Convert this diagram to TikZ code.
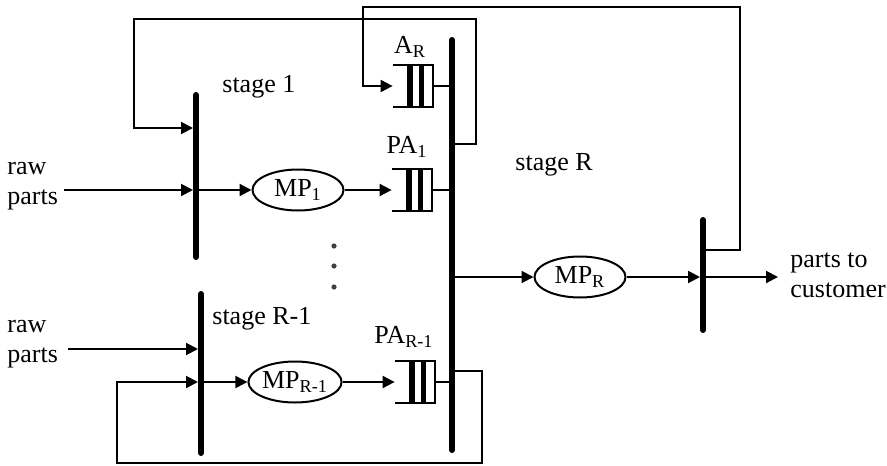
\documentclass[tikz,border=0pt]{standalone}
\usepackage{fontspec}
\setmainfont{Liberation Serif}
\usetikzlibrary{shapes.geometric,arrows.meta}

\newcommand\lbl{\fontsize{13}{15}\selectfont}
% buffer: open on the left, two thick bars inside
\newcommand\drawbuffer[1]{%
  \draw[flow] (#1.north west) -- (#1.north east) -- (#1.south east) -- (#1.south west);
  \draw[line width=3pt] ([xshift=8.5pt]#1.north west) -- ([xshift=8.5pt]#1.south west);
  \draw[line width=2.5pt] ([xshift=14.5pt]#1.north west) -- ([xshift=14.5pt]#1.south west);
}

\tikzset{
  flow/.style={line width=1pt},
  arr/.style={flow,-{Triangle[length=6pt,width=6pt]}},
  stagebar/.style={line width=3pt,line cap=round},
  machine/.style={ellipse,draw,line width=1pt,minimum width=45.5pt,minimum height=20.5pt,inner sep=0pt,font=\lbl},
  buffer/.style={minimum width=20pt,minimum height=21pt,inner sep=0pt},
  txt/.style={font=\lbl,inner sep=0pt,align=left},
}

\begin{document}
\begin{tikzpicture}[x=0.5pt,y=-0.5pt]
    \useasboundingbox (0,0) rectangle (887,465);

    % stage bars
    \coordinate (s1t) at (196,95);  \coordinate (s1b) at (196,257);
    \coordinate (s2t) at (201,294); \coordinate (s2b) at (201,453);
    \coordinate (sRt) at (452,40);  \coordinate (sRb) at (452,450);
    \coordinate (ot) at (703,220);  \coordinate (ob) at (703,330);
    \draw[stagebar] (s1t) -- (s1b);
    \draw[stagebar] (s2t) -- (s2b);
    \draw[stagebar] (sRt) -- (sRb);
    \draw[stagebar] (ot) -- (ob);

    % labels
    \node[txt, anchor=west] (raw1) at (7,186) {raw\\parts};
    \node[txt, anchor=west] (raw2) at (7,344) {raw\\parts};
    \node[txt, anchor=west] (cust) at (790,275) {parts to\\customer};
    \node[txt, anchor=west] (st1) at (222,87) {stage 1};
    \node[txt, anchor=west] (stR) at (515,165) {stage R};
    \node[txt, anchor=west] (stR1) at (212,319) {stage R-1};
    \node[txt] (arlbl) at (410,47) {A\textsubscript{R}};
    \node[txt] (pa1lbl) at (407,147) {PA\textsubscript{1}};
    \node[txt] (paR1lbl) at (404,337) {PA\textsubscript{R-1}};

    % machines
    \node[machine] (mp1) at (298,190) {MP\textsubscript{1}};
    \node[machine] (mpR1) at (295,382) {MP\textsubscript{R-1}};
    \node[machine] (mpR) at (580,277) {MP\textsubscript{R}};

    % buffers
    \node[buffer] (ar) at (413,86) {};
    \node[buffer] (pa1) at (412,190) {};
    \node[buffer] (paR1) at (415,382) {};
    \drawbuffer{ar}
    \drawbuffer{pa1}
    \drawbuffer{paR1}

    % stage 1
    \coordinate (in1) at (64,190);
    \draw[arr] (in1) -- ([xshift=-1.5pt]in1 -| s1t);
    \draw[arr] (in1 -| s1t) -- (mp1.west);
    \draw[arr] (mp1.east) -- (pa1.west);
    \draw[flow] (pa1.east) -- (pa1.east -| sRt);

    % stage R-1
    \coordinate (in2) at (68,349);
    \draw[arr] (in2) -- ([xshift=-1.5pt]in2 -| s2t);
    \draw[arr] (mpR1 -| s2t) -- (mpR1.west);
    \draw[arr] (mpR1.east) -- (paR1.west);
    \draw[flow] (paR1.east) -- (paR1.east -| sRt);

    % stage R
    \draw[flow] (ar.east) -- (ar.east -| sRt);
    \draw[arr] (mpR -| sRt) -- (mpR.west);
    \draw[arr] (mpR.east) -- ([xshift=-1.5pt]mpR -| ot);
    \draw[arr] (mpR -| ot) -- ([xshift=-6pt]cust.west |- mpR);

    % feedback loops
    \coordinate (fb1) at (452,144);
    \coordinate (t1) at (196,128);
    \draw[arr] (fb1) -- ++(24,0) |- (134,19) |- ([xshift=-1.5pt]t1);
    \coordinate (fb2) at (703,250);
    \draw[arr] (fb2) -- ++(37,0) |- (363,7) |- (ar.west);
    \coordinate (fb3) at (452,371);
    \coordinate (t3) at (201,382);
    \draw[arr] (fb3) -- ++(30,0) |- (117,463) |- ([xshift=-1.5pt]t3);

    % more stages
    \foreach \y in {246,266,287}
        \fill[black!75] (334,\y) circle (1.3pt);
\end{tikzpicture}
\end{document}
